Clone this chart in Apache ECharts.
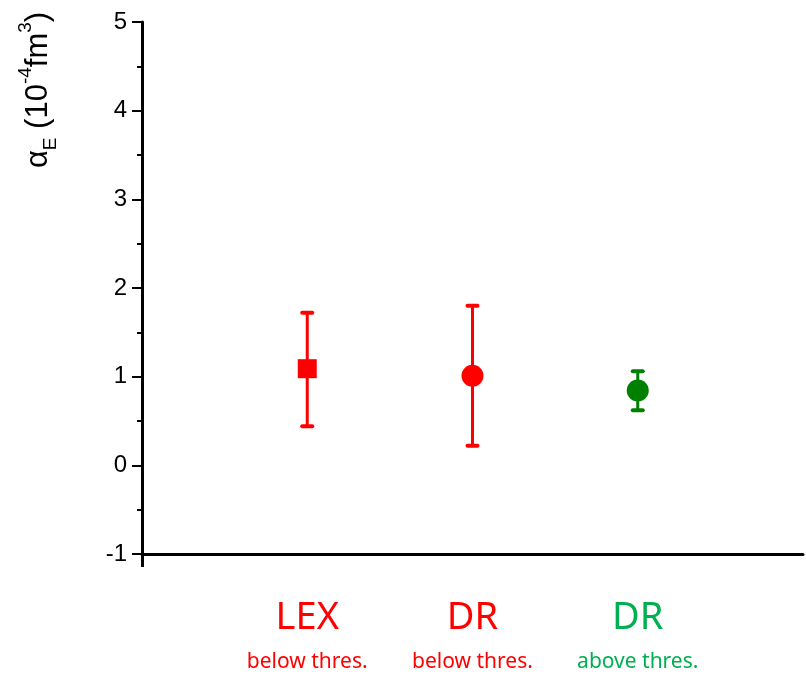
<!DOCTYPE html>
<html>
<head>
<meta charset="utf-8">
<script src="https://cdn.jsdelivr.net/npm/echarts@6/dist/echarts.min.js"></script>
<style>html,body{margin:0;padding:0;background:#fff}#c{width:806px;height:676px}</style>
</head>
<body>
<div id="c"></div>
<script>
// ---- data ----
var categories = ['LEX', 'DR', 'DR'];
var subLabels = ['below thres.', 'below thres.', 'above thres.'];
var xPositions = [1, 2, 3];
var values = [1.09, 1.01, 0.845];
var lows = [0.44, 0.22, 0.62];
var highs = [1.72, 1.80, 1.06];
var yTicks = [-1, 0, 1, 2, 3, 4, 5];

// ---- styles ----
var markerColors = ['#ff0000', '#ff0000', '#008000'];
var textStyleKeys = ['R', 'R', 'G'];
var markerSymbols = ['rect', 'circle', 'circle'];
var markerSizes = [19, 22, 22];

var chart = echarts.init(document.getElementById('c'));

// axis slots: empty slot at each end, one per category in between
var axisSlots = [''].concat(categories, ['']);

var scatterData = values.map(function (v, i) {
  return {
    value: [xPositions[i], v],
    symbol: markerSymbols[i],
    symbolSize: markerSizes[i],
    itemStyle: { color: markerColors[i], opacity: 1 }
  };
});
var errData = values.map(function (v, i) {
  return [xPositions[i], lows[i], highs[i], i];
});

var fontLabel = "'Comic Sans MS', 'Noto Sans', sans-serif";
var fontAxis = "'Liberation Sans', Arial, sans-serif";

chart.setOption({
  animation: false,
  backgroundColor: '#fff',
  grid: { left: 142, right: 2, top: 22, bottom: 122 },
  xAxis: {
    type: 'category',
    data: axisSlots,
    boundaryGap: false,
    splitLine: { show: false },
    axisLine: { show: true, onZero: false, lineStyle: { color: '#000', width: 3 } },
    axisTick: {
      show: true, length: 13,
      interval: function (idx) { return idx === 0; },
      lineStyle: { color: '#000', width: 3 }
    },
    axisLabel: {
      show: true,
      interval: 0,
      margin: 40,
      formatter: function (val, idx) {
        var i = xPositions.indexOf(idx);
        if (i < 0) return '';
        var k = textStyleKeys[i];
        return '{big' + k + '|' + categories[i] + '}\n{small' + k + '|' + subLabels[i] + '}';
      },
      rich: {
        bigR: { fontSize: 38, color: '#ff0000', fontFamily: fontLabel, lineHeight: 48 },
        smallR: { fontSize: 21, color: '#ff0000', fontFamily: fontLabel, lineHeight: 40 },
        bigG: { fontSize: 38, color: '#00b050', fontFamily: fontLabel, lineHeight: 48 },
        smallG: { fontSize: 21, color: '#00b050', fontFamily: fontLabel, lineHeight: 40 }
      }
    }
  },
  yAxis: {
    type: 'value',
    min: yTicks[0], max: yTicks[yTicks.length - 1], interval: 1,
    splitLine: { show: false },
    axisLine: { show: true, onZero: false, lineStyle: { color: '#000', width: 3 } },
    axisTick: { show: true, length: 10, lineStyle: { color: '#000', width: 2 } },
    minorTick: { show: true, splitNumber: 2, length: 5, lineStyle: { color: '#000', width: 2 } },
    axisLabel: {
      color: '#000', fontSize: 24, margin: 15,
      fontFamily: fontAxis
    }
  },
  graphic: [{
    type: 'text',
    x: 38, y: 90,
    rotation: Math.PI / 2,
    style: {
      text: '{m|α}{sub|E}{m| (10}{sup|-4}{m|fm}{sup|3}{m|)}',
      align: 'center',
      verticalAlign: 'middle',
      fill: '#000',
      rich: {
        m: { fontSize: 31, fontFamily: fontAxis, fill: '#000', lineHeight: 44 },
        sub: { fontSize: 19, fontFamily: fontAxis, fill: '#000', verticalAlign: 'bottom', lineHeight: 44 },
        sup: { fontSize: 19, fontFamily: fontAxis, fill: '#000', verticalAlign: 'top', lineHeight: 44 }
      }
    }
  }],
  series: [{
    type: 'custom',
    renderItem: function (params, api) {
      var x = api.value(0);
      var lo = api.coord([x, api.value(1)]);
      var hi = api.coord([x, api.value(2)]);
      var idx = api.value(3);
      var color = markerColors[idx];
      var cap = 5;
      var st = { stroke: color, lineWidth: 3, lineCap: 'round' };
      var capSt = { stroke: color, lineWidth: 4, lineCap: 'round' };
      return {
        type: 'group',
        children: [
          { type: 'line', shape: { x1: lo[0], y1: lo[1], x2: hi[0], y2: hi[1] }, style: st },
          { type: 'line', shape: { x1: hi[0] - cap, y1: hi[1], x2: hi[0] + cap, y2: hi[1] }, style: capSt },
          { type: 'line', shape: { x1: lo[0] - cap, y1: lo[1], x2: lo[0] + cap, y2: lo[1] }, style: capSt }
        ]
      };
    },
    data: errData,
    z: 2
  }, {
    type: 'scatter',
    data: scatterData,
    z: 3
  }]
});
</script>
</body>
</html>
